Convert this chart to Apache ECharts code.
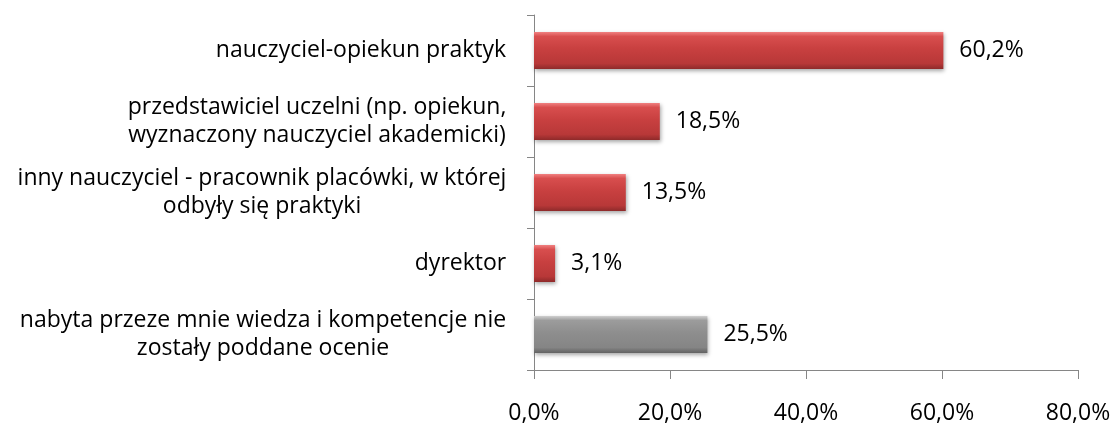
<!DOCTYPE html>
<html>
<head>
<meta charset="utf-8">
<script src="https://cdn.jsdelivr.net/npm/echarts@6/dist/echarts.min.js"></script>
<style>
html,body{margin:0;padding:0;background:#fff;}
#chart{width:1116px;height:425px;}
</style>
</head>
<body>
<div id="chart"></div>
<script>
const categories = [
  "nauczyciel-opiekun praktyk",
  "przedstawiciel uczelni (np. opiekun,\nwyznaczony nauczyciel akademicki)",
  "inny nauczyciel - pracownik placówki, w której\nodbyły się praktyki",
  "dyrektor",
  "nabyta przeze mnie wiedza i kompetencje nie\nzostały poddane ocenie"
];
const values = [60.2, 18.5, 13.5, 3.1, 25.5];
const xTickValues = [0, 20, 40, 60, 80];

const FONT = '"Open Sans", "Noto Sans", sans-serif';
const FS = 23;
const LH = 28;
const TXT = '#000000';

const ctx = document.createElement('canvas').getContext('2d');
ctx.font = FS + 'px ' + FONT;
const rich = {};
categories.forEach((c, i) => {
  const w = Math.max(...c.split('\n').map(l => ctx.measureText(l).width));
  rich['c' + i] = {width: Math.ceil(w) + 1, align: 'center', fontSize: FS, fontFamily: FONT, lineHeight: LH, color: TXT};
});

function pct(v) { return v.toFixed(1).replace('.', ',') + '%'; }

function grad(top, light, main, dark, bottom) {
  return new echarts.graphic.LinearGradient(0, 0, 0, 1, [
    {offset: 0, color: top},
    {offset: 0.12, color: light},
    {offset: 0.45, color: main},
    {offset: 0.85, color: dark},
    {offset: 1, color: bottom}
  ]);
}
const redFill = grad('#f08080', '#d84e4e', '#c84040', '#b83838', '#8e2a2a');
const grayFill = grad('#cfcfcf', '#9c9c9c', '#8e8e8e', '#858585', '#626262');

const chart = echarts.init(document.getElementById('chart'), null, {renderer: 'canvas'});
chart.setOption({
  animation: false,
  backgroundColor: '#ffffff',
  grid: {left: 534, right: 38, top: 15, bottom: 54},
  xAxis: {
    type: 'value', min: 0, max: 80, interval: 20,
    splitLine: {show: false},
    axisLine: {show: true, lineStyle: {color: '#868686', width: 1}},
    axisTick: {show: true, length: 9, lineStyle: {color: '#868686'}},
    axisLabel: {
      margin: 32, color: TXT, fontSize: FS, fontFamily: FONT,
      formatter: v => xTickValues.includes(v) ? pct(v) : ''
    }
  },
  yAxis: {
    type: 'category', inverse: true, data: categories,
    axisLine: {show: true, lineStyle: {color: '#868686', width: 1}},
    axisTick: {show: true, length: 7, alignWithLabel: false, lineStyle: {color: '#868686'}},
    axisLabel: {
      margin: 27, color: TXT,
      formatter: (v, idx) => v.split('\n').map(l => '{c' + idx + '|' + l + '}').join('\n'),
      rich: rich
    }
  },
  series: [{
    type: 'bar',
    barWidth: 37,
    data: values.map((v, i) => ({
      value: v,
      itemStyle: {
        color: i === categories.length - 1 ? grayFill : redFill,
        shadowColor: 'rgba(0,0,0,0.35)', shadowBlur: 4, shadowOffsetX: 1, shadowOffsetY: 2
      }
    })),
    label: {
      show: true, position: 'right', distance: 16,
      color: TXT, fontSize: FS, fontFamily: FONT,
      formatter: p => pct(p.value)
    }
  }]
});
</script>
</body>
</html>
